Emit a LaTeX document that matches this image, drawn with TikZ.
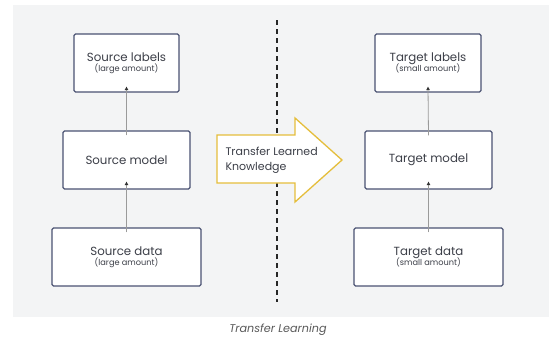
\documentclass[tikz,border=0pt]{standalone}
\usepackage{fontspec}
\setmainfont{Poppins}
\usetikzlibrary{arrows.meta}
\definecolor{panelgray}{HTML}{F3F4F5}
\definecolor{boxline}{HTML}{4A5272}
\definecolor{txt}{HTML}{3C3F48}
\definecolor{gold}{HTML}{E5BE3C}
\definecolor{flowline}{HTML}{9A9A9A}
\tikzset{
  blockbox/.style={draw=boxline, line width=1.3pt, fill=white, rounded corners=1.5pt,
    text=txt, align=center, inner sep=0pt},
  mainlabel/.style={font=\fontsize{11.8}{13}\selectfont},
  flow/.style={draw=flowline, line width=0.8pt, -{Triangle[length=3.5pt,width=3.5pt,fill=black!80,color=black!80]}},
}
\newcommand{\boxtext}[2]{{\fontsize{11.8}{13}\selectfont #1}\\[-2pt]{\fontsize{8.2}{9}\selectfont #2}}
\begin{document}
\begin{tikzpicture}[x=1pt,y=-1pt]
\useasboundingbox (0,0) rectangle (549,341);
\fill[white] (0,0) rectangle (549,341);
\fill[panelgray] (13,5) rectangle (549,317);

% dividing line
\draw[black!85, line width=1.1pt, dash pattern=on 5pt off 4pt] (277,20) coordinate (dtop) -- (277,302) coordinate (dbot);

% source side
\node[blockbox, minimum width=105pt, minimum height=58pt] (slab) at (126.5,63) {\boxtext{Source labels}{(large amount)}};
\node[blockbox, minimum width=127pt, minimum height=58pt, mainlabel] (smod) at (126.5,160) {Source model};
\node[blockbox, minimum width=149pt, minimum height=58pt] (sdat) at (126.5,257) {\boxtext{Source data}{(large amount)}};

% target side
\node[blockbox, minimum width=106pt, minimum height=58pt] (tlab) at (428,63) {\boxtext{Target labels}{(small amount)}};
\node[blockbox, minimum width=127pt, minimum height=58pt, mainlabel] (tmod) at (428.5,160) {Target model};
\node[blockbox, minimum width=149pt, minimum height=58pt] (tdat) at (428.5,257) {\boxtext{Target data}{(small amount)}};

% vertical flow arrows
\draw[flow] ([yshift=-5pt]sdat.north) -- ([yshift=8pt]smod.south);
\draw[flow] ([yshift=-5pt]smod.north) -- ([yshift=6pt]slab.south);
\draw[flow] ([yshift=-5pt]tdat.north) -- ([yshift=8pt]tmod.south);
\draw[flow] ([yshift=-5pt]tmod.north) -- ([yshift=6pt]tlab.south);

% transfer arrow
\draw[gold, line width=1.3pt, fill=white, line join=miter]
  (217,135) -- (295,135) -- (295,118) -- (342,160) -- (295,202) -- (295,183) -- (217,183) -- cycle;
\node[text=txt, align=left, anchor=west, font=\fontsize{11}{15}\selectfont] (xfer) at (222,160) {Transfer Learned\\Knowledge};

% caption
\node[text=black!65, font=\itshape\fontsize{11.2}{13}\selectfont] (cap) at (278,330) {Transfer Learning};
\end{tikzpicture}
\end{document}
